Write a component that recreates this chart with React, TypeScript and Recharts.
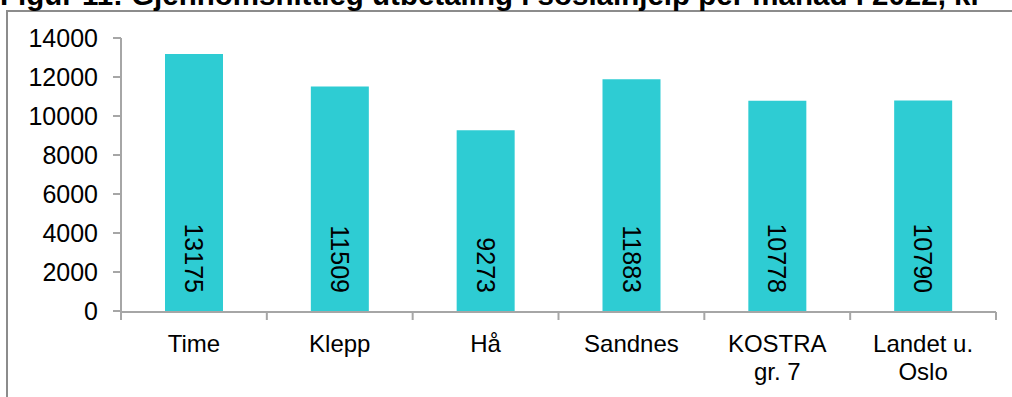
import React from "react";
import { BarChart, Bar, XAxis, YAxis, LabelList } from "recharts";

const regions = ["Time", "Klepp", "Hå", "Sandnes", "KOSTRA\ngr. 7", "Landet u.\nOslo"];
const payments = [13175, 11509, 9273, 11883, 10778, 10790];
const yTicks = [0, 2000, 4000, 6000, 8000, 10000, 12000, 14000];
const boundaryTicks = [0, 1, 2, 3, 4, 5, 6];

const title = "Figur 11: Gjennomsnittleg utbetaling i sosialhjelp per månad i 2022, kr";

const data = regions.map((name, i) => ({ name, value: payments[i], idx: i + 0.5 }));

const FONT = "Liberation Sans, Arial, sans-serif";
const AXIS = "#a6a6a6";

function CategoryTick({ x, y, payload }: any) {
  const lines = String(payload.value).split("\n");
  return (
    <text x={x} y={y + 33} textAnchor="middle" fontFamily={FONT} fontSize={24} fill="#000">
      {lines.map((l, i) => (
        <tspan key={i} x={x} dy={i === 0 ? 0 : 28}>
          {l}
        </tspan>
      ))}
    </text>
  );
}

function ValueLabel({ x, y, width, height, value }: any) {
  const cx = x + width / 2;
  const yEnd = y + height - 18;
  return (
    <text
      x={cx}
      y={yEnd}
      transform={`rotate(90 ${cx} ${yEnd})`}
      textAnchor="end"
      dominantBaseline="central"
      fontFamily={FONT}
      fontSize={25}
      fill="#000"
    >
      {value}
    </text>
  );
}

const NoLabel = () => <g />;

export default function App() {
  return (
    <div
      style={{
        position: "fixed",
        left: 0,
        top: 0,
        width: 1012,
        height: 397,
        overflow: "hidden",
        background: "#fff",
      }}
    >
      <div
        style={{
          position: "absolute",
          left: 6,
          top: 10,
          width: 1100,
          height: 500,
          border: "2px solid #8c8c8c",
        }}
      />
      <div
        style={{
          position: "absolute",
          left: 0,
          top: -22,
          whiteSpace: "nowrap",
          fontFamily: FONT,
          fontWeight: "bold",
          fontSize: 29.5,
          lineHeight: "34px",
          color: "#000",
        }}
      >
        {title}
      </div>
      <div style={{ position: "absolute", left: 0, top: 0 }}>
        <BarChart
          width={1012}
          height={397}
          data={data}
          margin={{ top: 38, right: 16, left: 0, bottom: 0 }}
          barSize={58}
        >
          <YAxis
            type="number"
            domain={[0, 14000]}
            ticks={yTicks}
            width={121}
            tickSize={8}
            tickMargin={15}
            stroke={AXIS}
            strokeWidth={2}
            tick={{ fill: "#000", fontSize: 25, fontFamily: FONT }}
            interval={0}
          />
          <XAxis
            dataKey="name"
            height={1}
            tickLine={false}
            axisLine={false}
            tick={<CategoryTick />}
            interval={0}
          />
          <XAxis
            xAxisId="bounds"
            type="number"
            dataKey="idx"
            domain={[0, 6]}
            ticks={boundaryTicks}
            tick={<NoLabel />}
            tickSize={8}
            height={85}
            stroke={AXIS}
            strokeWidth={2}
            interval={0}
          />
          <Bar dataKey="value" fill="#2ECCD3" isAnimationActive={false}>
            <LabelList dataKey="value" content={<ValueLabel />} />
          </Bar>
        </BarChart>
      </div>
    </div>
  );
}
